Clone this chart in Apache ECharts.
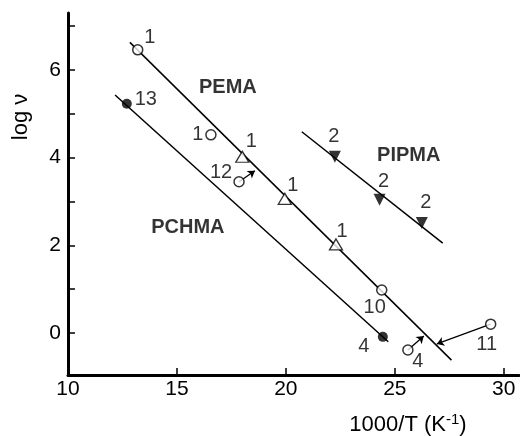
<!DOCTYPE html>
<html><head><meta charset="utf-8">
<script src="https://cdn.jsdelivr.net/npm/echarts@6/dist/echarts.min.js"></script>
<style>html,body{margin:0;padding:0;background:#fff}#c{width:520px;height:436px}</style>
</head><body><div id="c"></div>
<script>
// ---- data ----
const xTickValues = [15, 20, 25, 30];
const xTickLabels = [10, 15, 20, 25, 30];
const yTickValues = [0, 1, 2, 3, 4, 5, 6, 7];
const yTickLabels = [0, 2, 4, 6];

const pemaLine = [[12.84, 6.63], [27.6, -0.62]];
const pchmaLine = [[12.16, 5.43], [24.7, -0.2]];
const pipmaLine = [[20.73, 4.59], [27.2, 2.05]];

const openCircles = [[13.2, 6.46], [16.56, 4.52], [24.4, 0.98], [17.85, 3.45], [25.6, -0.39], [29.4, 0.2]];
const openCircleLabels = ['1', '1', '10', '12', '4', '11'];
const openTriangles = [[18.0, 4.02], [19.95, 3.06], [22.3, 2.02]];
const openTriangleLabels = ['1', '1', '1'];
const filledCircles = [[12.7, 5.23], [24.45, -0.09]];
const filledCircleLabels = ['13', '4'];
const filledTriangles = [[22.25, 4.02], [24.3, 3.04], [26.24, 2.51]];
const filledTriangleLabels = ['2', '2', '2'];

const arrowFrom = [[17.85, 3.45], [25.6, -0.39], [29.4, 0.2]];
const arrowTo = [[18.58, 3.7], [26.33, -0.07], [26.93, -0.25]];

const annotations = [[17.34, 5.59], [25.64, 4.06], [15.5, 2.4]];
const annotationTexts = ['PEMA', 'PIPMA', 'PCHMA'];

// ---- label placement (style) ----
const openCircleOffsets = [[12, -12], [-13, 0], [-7, 18], [-18, -9], [10, 11], [-4, 20]];
const openTriangleOffsets = [[9, -15], [8, -13], [6, -13]];
const filledCircleOffsets = [[19, -4], [-19, 10]];
const filledTriangleOffsets = [[-1, -20], [4, -18], [4, -20]];

const FONT = '"Liberation Sans", Arial, Helvetica, sans-serif';

function pts(values, labels, offsets) {
  return values.map((v, i) => ({
    value: v,
    label: { formatter: labels[i], offset: offsets[i] }
  }));
}
const labelStyle = { show: true, position: 'inside', color: '#000', textBorderWidth: 0, fontSize: 20, fontFamily: FONT };

function fitLine(d) {
  return { type: 'line', data: d, symbol: 'none', silent: true, z: 2,
    lineStyle: { color: '#000', width: 1.5 }, animation: false };
}

const chart = echarts.init(document.getElementById('c'), null, { renderer: 'canvas' });
chart.setOption({
  animation: false,
  backgroundColor: '#fff',
  grid: { left: 68, right: 1, top: 13, bottom: 61 },
  xAxis: {
    type: 'value', min: 10, max: 30.7,
    axisLine: { show: true, onZero: false, lineStyle: { color: '#000', width: 3 } },
    axisTick: { show: true, inside: true, length: 7, customValues: xTickValues, lineStyle: { color: '#000', width: 1.5 } },
    axisLabel: { customValues: xTickLabels, color: '#000', fontSize: 21, fontFamily: FONT, margin: 4 },
    splitLine: { show: false }
  },
  yAxis: {
    type: 'value', min: -0.96, max: 7.3,
    axisLine: { show: true, onZero: false, lineStyle: { color: '#000', width: 3 } },
    axisTick: { show: true, inside: true, length: 7, customValues: yTickValues, lineStyle: { color: '#000', width: 1.5 } },
    axisLabel: { customValues: yTickLabels, color: '#000', fontSize: 21, fontFamily: FONT, margin: 7 },
    splitLine: { show: false }
  },
  graphic: [
    { type: 'text', x: 21, y: 117, rotation: Math.PI / 2, silent: true,
      style: { text: 'log ν', font: '22px ' + FONT, fill: '#000', align: 'center', verticalAlign: 'middle' } },
    { type: 'text', x: 408, y: 425, silent: true,
      style: { text: '{a|1000/T (K}{s|-1}{a|)}', align: 'center', verticalAlign: 'middle',
        rich: { a: { fontSize: 22, fontFamily: FONT, color: '#000' },
                s: { fontSize: 15, fontFamily: FONT, color: '#000', verticalAlign: 'top', padding: [0, 0, 10, 0] } } } }
  ],
  series: [
    fitLine(pemaLine), fitLine(pchmaLine), fitLine(pipmaLine),
    {
      type: 'lines', coordinateSystem: 'cartesian2d', z: 3, silent: true,
      symbol: ['none', 'arrow'], symbolSize: 7,
      lineStyle: { color: '#000', width: 1.3, opacity: 1 },
      data: arrowFrom.map((f, i) => ({ coords: [f, arrowTo[i]] }))
    },
    {
      type: 'scatter', z: 5, symbol: 'circle', symbolSize: 10,
      itemStyle: { color: '#fff', borderColor: '#000', borderWidth: 1.5 },
      label: labelStyle, data: pts(openCircles, openCircleLabels, openCircleOffsets)
    },
    {
      type: 'scatter', z: 5, symbol: 'triangle', symbolSize: [13, 11],
      itemStyle: { color: '#fff', borderColor: '#000', borderWidth: 1.3 },
      label: labelStyle, data: pts(openTriangles, openTriangleLabels, openTriangleOffsets)
    },
    {
      type: 'scatter', z: 5, symbol: 'circle', symbolSize: 10,
      itemStyle: { color: '#000' },
      label: labelStyle, data: pts(filledCircles, filledCircleLabels, filledCircleOffsets)
    },
    {
      type: 'scatter', z: 5, symbol: 'triangle', symbolRotate: 180, symbolSize: [12, 12],
      itemStyle: { color: '#000' },
      label: labelStyle, data: pts(filledTriangles, filledTriangleLabels, filledTriangleOffsets)
    },
    {
      type: 'scatter', z: 6, symbol: 'circle', symbolSize: 1, silent: true,
      itemStyle: { color: 'rgba(0,0,0,0)' },
      label: { show: true, position: 'inside', color: '#000', textBorderWidth: 0, fontSize: 20, fontWeight: 'bold', fontFamily: FONT,
        formatter: p => annotationTexts[p.dataIndex] },
      data: annotations
    }
  ]
});
</script></body></html>
